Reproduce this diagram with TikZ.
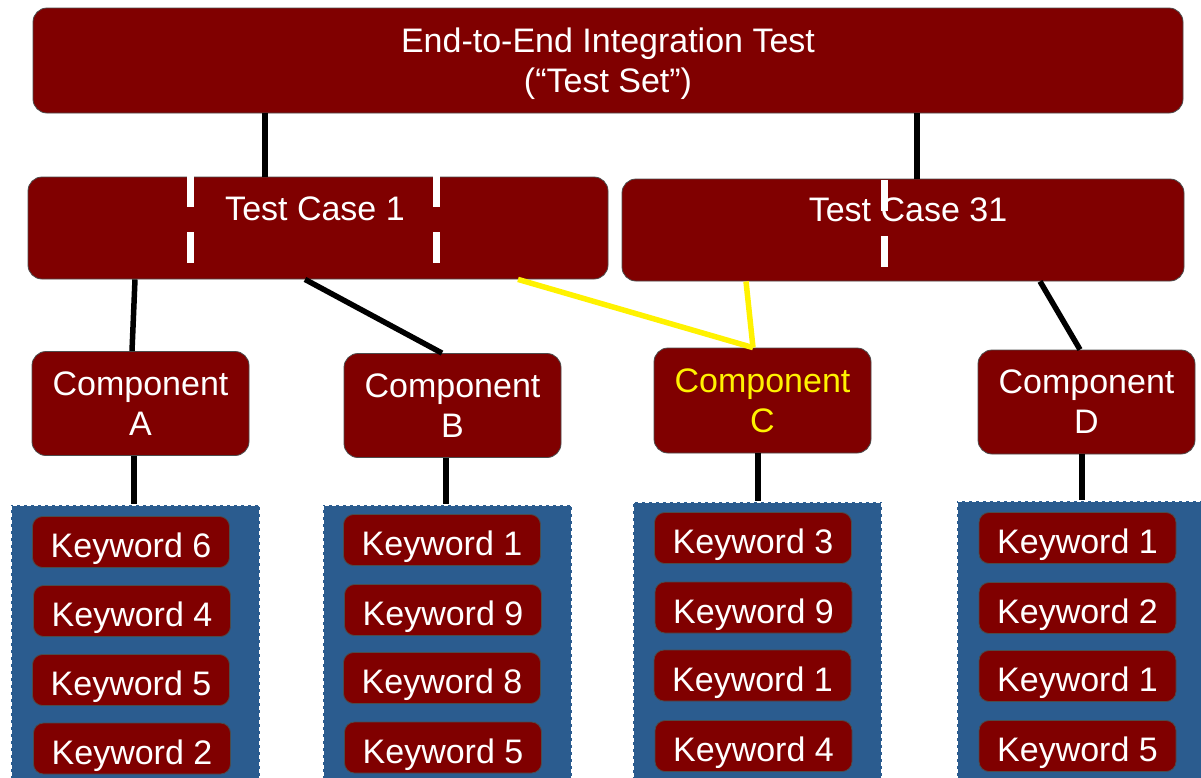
\documentclass[tikz,border=0pt]{standalone}
\usepackage{fontspec}
\setmainfont{Liberation Sans}
\definecolor{boxred}{RGB}{128,0,0}
\definecolor{panelblue}{RGB}{43,92,143}
\begin{document}
\begin{tikzpicture}[x=1pt,y=-1pt,
  txt/.style={text=white, font=\fontsize{34}{40}\selectfont, align=center, inner sep=0pt},
  rbox/.style={txt, draw=black!70, line width=0.8pt, fill=boxred, rounded corners=14pt},
  kbox/.style={rbox, rounded corners=10pt, minimum width=197pt, minimum height=51pt, text height=31pt, text depth=0pt},
  cbox/.style={rbox, minimum width=217pt, minimum height=104pt},
  panel/.style={fill=panelblue, draw=white, line width=2pt, dash pattern=on 4pt off 3pt, inner sep=0pt, minimum width=249pt},
  conn/.style={line width=5.5pt, draw=black},
  yconn/.style={line width=5.5pt, draw=yellow},
  wdash/.style={draw=white, line width=7pt, dash pattern=on 31pt off 25pt}
]
\useasboundingbox (0,0) rectangle (1201,777);

% top
\node[rbox, minimum width=1150pt, minimum height=105pt, text depth=0pt] (top) at (608,60.5) {End-to-End Integration Test\\(“Test Set”)};

% test cases
\node[rbox, minimum width=580pt, minimum height=102pt] (tc1) at (318,228) {};
\node[rbox, minimum width=562pt, minimum height=102pt] (tc31) at (903,230) {};
\draw[wdash] (190,176) -- (190,263);
\draw[wdash] (436,176) -- (436,263);
\draw[wdash] (884,180) -- (884,267);
\node[txt] (tc1l) at (315,209) {Test Case 1};
\node[txt] (tc31l) at (908,210) {Test Case 31};

% components
\node[cbox] (cA) at (140.5,403.5) {Component\\A};
\node[cbox] (cB) at (452.5,405.5) {Component\\B};
\node[cbox, text=yellow, minimum height=105pt] (cC) at (762.5,400.5) {Component\\C};
\node[cbox] (cD) at (1086.5,402) {Component\\D};

% panels
\node[panel, minimum height=285pt] (pA) at (135,647.5) {};
\node[panel, minimum height=285pt] (pB) at (447.5,647.5) {};
\node[panel, minimum height=288pt] (pC) at (757,646) {};
\node[panel, minimum width=260pt, minimum height=290pt] (pD) at (1087,646) {};

% keywords A
\node[kbox] (a1) at (131,542) {Keyword 6};
\node[kbox] (a2) at (132,611) {Keyword 4};
\node[kbox] (a3) at (131,680) {Keyword 5};
\node[kbox] (a4) at (132,748.5) {Keyword 2};
% keywords B
\node[kbox] (b1) at (442,540) {Keyword 1};
\node[kbox] (b2) at (443,610) {Keyword 9};
\node[kbox] (b3) at (442,678) {Keyword 8};
\node[kbox] (b4) at (443,747.5) {Keyword 5};
% keywords C
\node[kbox] (c1) at (753,538) {Keyword 3};
\node[kbox] (c2) at (753.5,607.5) {Keyword 9};
\node[kbox] (c3) at (752.5,675.5) {Keyword 1};
\node[kbox] (c4) at (753.5,746) {Keyword 4};
% keywords D
\node[kbox] (d1) at (1077.5,538) {Keyword 1};
\node[kbox] (d2) at (1077.5,608) {Keyword 2};
\node[kbox] (d3) at (1077.5,676) {Keyword 1};
\node[kbox] (d4) at (1077.5,746) {Keyword 5};

% connectors
\draw[conn] ([xshift=-343pt]top.south) -- ([xshift=-53pt]tc1.north);
\draw[conn] ([xshift=309pt]top.south) -- ([xshift=14pt]tc31.north);
\draw[conn] ([xshift=-183pt]tc1.south) -- ([xshift=-8.5pt]cA.north);
\draw[conn] ([xshift=-13pt]tc1.south) -- ([xshift=-10.5pt]cB.north);
\draw[conn] ([xshift=137pt]tc31.south) -- ([xshift=-6.5pt]cD.north);
\draw[yconn] ([xshift=200pt]tc1.south) -- ([xshift=-9.5pt]cC.north);
\draw[yconn] ([xshift=-157pt]tc31.south) -- ([xshift=-9.5pt]cC.north);
\draw[conn] ([xshift=-6.5pt]cA.south) -- ([xshift=-1pt]pA.north);
\draw[conn] ([xshift=-6.5pt]cB.south) -- ([xshift=-1.5pt]pB.north);
\draw[conn] ([xshift=-4.5pt]cC.south) -- ([xshift=1pt]pC.north);
\draw[conn] ([xshift=-4.5pt]cD.south) -- ([xshift=-5pt]pD.north);
\end{tikzpicture}
\end{document}
